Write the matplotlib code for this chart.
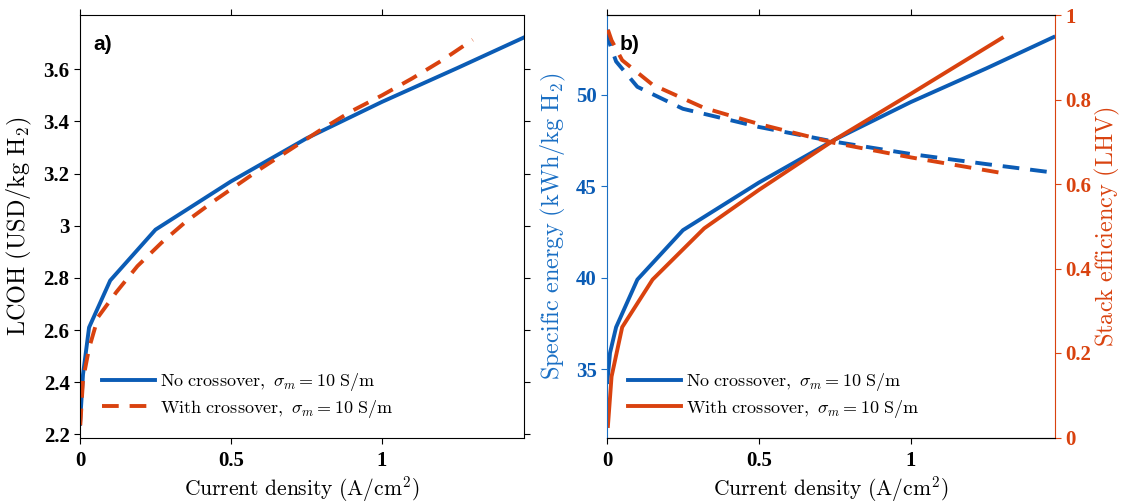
import matplotlib
matplotlib.use('Agg')
import matplotlib.pyplot as plt
from matplotlib.font_manager import FontProperties

plt.rcParams['mathtext.fontset'] = 'cm'
plt.rcParams['font.family'] = ['DejaVu Serif']

# ---------------- data ----------------
# panel a) LCOH
j_lcoh_no = [0.0, 0.01, 0.03, 0.1, 0.25, 0.5, 0.75, 1.0, 1.25, 1.47]
lcoh_no = [2.24, 2.43, 2.61, 2.79, 2.985, 3.17, 3.335, 3.475, 3.605, 3.722]
j_lcoh_x = [0.001, 0.01, 0.03, 0.06, 0.12, 0.19, 0.27, 0.35, 0.45, 0.6, 0.7,
            0.8, 0.9, 1.0, 1.1, 1.2, 1.3]
lcoh_x = [2.235, 2.41, 2.53, 2.65, 2.745, 2.845, 2.935, 3.015, 3.10, 3.22,
          3.295, 3.37, 3.44, 3.50, 3.565, 3.635, 3.713]

# panel b) specific energy (solid) and stack efficiency (dashed)
j_no = [0.001, 0.01, 0.03, 0.1, 0.25, 0.5, 0.75, 1.0, 1.25, 1.47]
se_no = [34.3, 35.9, 37.3, 39.9, 42.6, 45.2, 47.55, 49.6, 51.45, 53.15]
eff_no = [0.965, 0.93, 0.89, 0.83, 0.778, 0.735, 0.70, 0.671, 0.647, 0.627]
j_x = [0.003, 0.015, 0.05, 0.15, 0.32, 0.5, 0.75, 1.0, 1.3]
se_x = [31.9, 34.6, 37.3, 39.9, 42.7, 44.8, 47.55, 50.05, 53.1]
j_eff_x = [0.003, 0.015, 0.05, 0.15, 0.32, 0.5, 0.75, 1.0, 1.3]
eff_x = [0.965, 0.94, 0.893, 0.835, 0.78, 0.742, 0.697, 0.663, 0.626]

x_ticks = [0, 0.5, 1]
x_tick_labels = ['0', '0.5', '1']
lcoh_ticks = [2.2, 2.4, 2.6, 2.8, 3.0, 3.2, 3.4, 3.6]
lcoh_tick_labels = ['2.2', '2.4', '2.6', '2.8', '3', '3.2', '3.4', '3.6']
se_ticks = [35, 40, 45, 50]
se_tick_labels = ['35', '40', '45', '50']
eff_ticks = [0, 0.2, 0.4, 0.6, 0.8, 1.0]
eff_tick_labels = ['0', '0.2', '0.4', '0.6', '0.8', '1']

legend_labels = [r'$\mathrm{No\ crossover,}\ \sigma_m = 10\ \mathrm{S/m}$',
                 r'$\mathrm{With\ crossover,}\ \sigma_m = 10\ \mathrm{S/m}$']

# ---------------- style ----------------
BLUE = '#0b5cb5'
RED = '#d9420f'
AX_BLUE = '#1a6fc4'
AX_RED = '#d9420f'
LW = 2.8
DASH = (4.3, 2.8)
tick_fp = FontProperties(family='Liberation Serif', weight='bold', size=15)
xlab_size = 15.5
ylab_size = 17.5
leg_size = 13

W, H = 1123, 504
fig = plt.figure(figsize=(W / 100, H / 100), dpi=100)
bot, top = 437.5, 15
axA = fig.add_axes([80 / W, (H - bot) / H, 444 / W, (bot - top) / H])
axB = fig.add_axes([607 / W, (H - bot) / H, 448 / W, (bot - top) / H])
XLAB_Y = 489


def leg(ax, handles, x0_px, left_px, width_px):
    ax.legend(handles, legend_labels, loc='center left', frameon=False,
              fontsize=leg_size, handlelength=2.95, handletextpad=0.3,
              labelspacing=0.25, borderpad=0, borderaxespad=0,
              bbox_to_anchor=((x0_px - left_px) / width_px,
                              (bot - 395.5) / (bot - top)))


# ---------------- panel a ----------------
axA.plot(j_lcoh_no, lcoh_no, color=BLUE, lw=LW)
axA.plot(j_lcoh_x, lcoh_x, color=RED, lw=LW, dashes=DASH)
axA.set_xlim(0, 1.47)
axA.set_ylim(2.188, 3.808)
axA.set_xticks(x_ticks)
axA.set_xticklabels(x_tick_labels, fontproperties=tick_fp)
axA.set_yticks(lcoh_ticks)
axA.set_yticklabels(lcoh_tick_labels, fontproperties=tick_fp)
axA.tick_params(direction='out', length=4.5, width=0.8, top=True, right=True)
axA.tick_params(axis='x', pad=5.5)
axA.tick_params(axis='y', pad=3)
axA.set_xlabel(r'$\mathrm{Current\ density\ (A/cm^2)}$', fontsize=xlab_size)
axA.xaxis.set_label_coords(0.5, (bot - XLAB_Y) / (bot - top))
axA.xaxis.label.set_va('center')
axA.set_ylabel(r'$\mathrm{LCOH\ (USD/kg\ H_2)}$', fontsize=ylab_size)
axA.yaxis.set_label_coords((19 - 80) / 444, 0.5)
axA.yaxis.label.set_va('center')
axA.text((93 - 80) / 444, (bot - 44) / (bot - top), 'a)',
         transform=axA.transAxes, fontsize=15, fontweight='bold',
         family='Liberation Sans', va='center', ha='left')
leg(axA, axA.lines, 101.7, 80, 444)

# ---------------- panel b ----------------
axB2 = axB.twinx()
lb1, = axB.plot(j_no, se_no, color=BLUE, lw=LW)
lb2, = axB.plot(j_x, se_x, color=RED, lw=LW)
axB2.plot(j_no, eff_no, color=BLUE, lw=LW, dashes=DASH)
axB2.plot(j_eff_x, eff_x, color=RED, lw=LW, dashes=DASH)
axB.set_xlim(0, 1.475)
axB.set_ylim(31.27, 54.36)
axB2.set_ylim(0, 1.0)
axB.set_xticks(x_ticks)
axB.set_xticklabels(x_tick_labels, fontproperties=tick_fp)
axB.set_yticks(se_ticks)
axB.set_yticklabels(se_tick_labels, fontproperties=tick_fp, color=BLUE)
axB2.set_yticks(eff_ticks)
axB2.set_yticklabels(eff_tick_labels, fontproperties=tick_fp, color=AX_RED)
axB.tick_params(direction='out', length=4.5, width=0.8, top=True)
axB.tick_params(axis='x', pad=5.5)
axB.tick_params(axis='y', colors=AX_BLUE, labelcolor=BLUE, pad=3)
axB2.tick_params(direction='out', length=4.5, width=0.8, colors=AX_RED,
                 labelcolor=AX_RED, pad=3)
axB.spines['left'].set_color(AX_BLUE)
axB.spines['right'].set_visible(False)
axB2.spines['left'].set_visible(False)
axB2.spines['right'].set_color(AX_RED)
axB.set_xlabel(r'$\mathrm{Current\ density\ (A/cm^2)}$', fontsize=xlab_size)
axB.xaxis.set_label_coords(0.5, (bot - XLAB_Y) / (bot - top))
axB.xaxis.label.set_va('center')
axB.set_ylabel(r'$\mathrm{Specific\ energy\ (kWh/kg\ H_2)}$',
               fontsize=ylab_size, color=AX_BLUE)
axB.yaxis.set_label_coords((553 - 607) / 448, 0.5)
axB.yaxis.label.set_va('center')
axB2.set_ylabel(r'$\mathrm{Stack\ efficiency\ (LHV)}$', fontsize=ylab_size,
                color=AX_RED)
axB2.yaxis.set_label_coords((1107 - 607) / 448, 0.5)
axB2.yaxis.label.set_va('center')
axB2.yaxis.label.set_rotation(90)
axB.text((620 - 607) / 448, (bot - 44) / (bot - top), 'b)',
         transform=axB.transAxes, fontsize=15, fontweight='bold',
         family='Liberation Sans', va='center', ha='left')
leg(axB2, [lb1, lb2], 627.7, 607, 448)

fig.savefig('out.png', dpi=100)
